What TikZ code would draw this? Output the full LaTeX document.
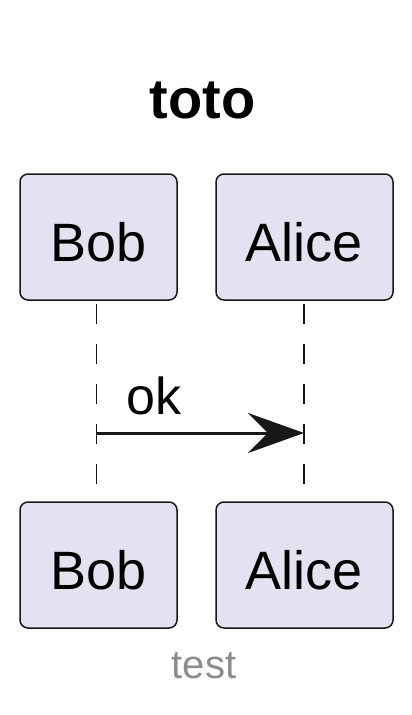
\documentclass[tikz,border=0pt]{standalone}
\usepackage{fontspec}
\setmainfont{Liberation Sans}
\usetikzlibrary{arrows.meta}
\definecolor{partfill}{HTML}{E2E2F0}
\definecolor{partline}{HTML}{181818}
\tikzset{
  part/.style={draw=partline, fill=partfill, line width=1.5pt, rounded corners=8pt,
    minimum height=126pt, text height=48pt, text depth=0pt, inner sep=0pt,
    font=\fontsize{54}{60}\selectfont},
  lifeline/.style={draw=partline, line width=1.5pt, dash pattern=on 20pt off 20pt},
  msg/.style={draw=partline, line width=3pt,
    -{Stealth[length=56pt, width=40pt, inset=20pt]}},
}

\begin{document}
\begin{tikzpicture}[x=1pt, y=-1pt]
\useasboundingbox (0,0) rectangle (412,715);
\path (202.5,118) node[anchor=base, font=\bfseries\fontsize{56}{62}\selectfont] (title) {toto};
\path (98.5,237)  node[part, minimum width=157pt] (bobtop)   {Bob};
\path (304.5,237) node[part, minimum width=177pt] (alicetop) {Alice};
\path (98.5,565)  node[part, minimum width=157pt] (bobbot)   {Bob};
\path (304.5,565) node[part, minimum width=177pt] (alicebot) {Alice};
\coordinate (okfrom) at (96.5,433);
\coordinate (okto)   at (304,433);
\draw [lifeline] (okfrom |- 0,304) -- (okfrom |- bobbot.north);
\draw [lifeline] (okto |- 0,304) -- (okto |- alicebot.north);
\draw [msg] (okfrom) -- (okto);
\path (126,414) node[anchor=base west, inner sep=0pt, font=\fontsize{52}{58}\selectfont] (ok) {ok};
\path (204,678) node[anchor=base, inner sep=0pt, text=gray!90, font=\fontsize{40}{46}\selectfont] (footer) {test};
\end{tikzpicture}
\end{document}
